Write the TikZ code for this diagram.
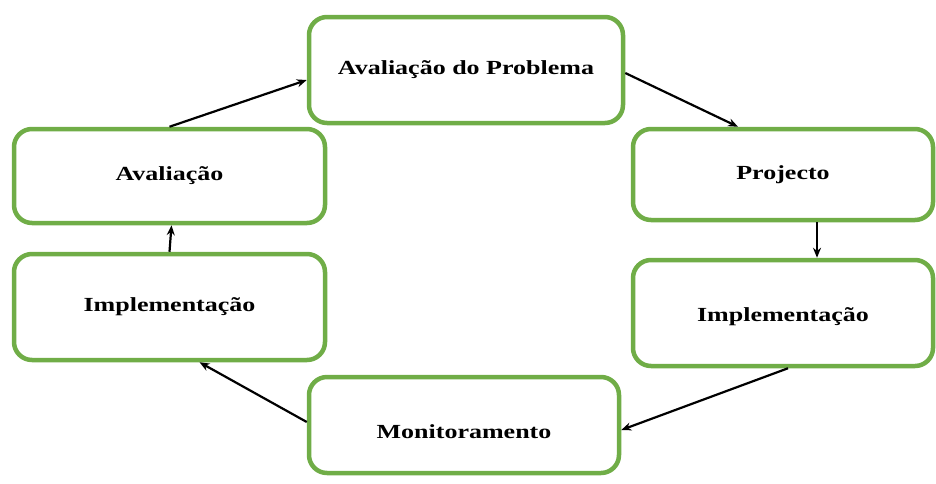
\documentclass[tikz,border=0pt]{standalone}
\usepackage{fontspec}
\setmainfont{Liberation Serif}[FakeStretch=1.3]
\usetikzlibrary{arrows.meta}
\definecolor{boxgreen}{HTML}{70AD47}

\begin{document}
\begin{tikzpicture}[x=1pt, y=-1pt,
    stage/.style={draw=boxgreen, line width=4.5pt, rounded corners=18pt, fill=white,
        font=\fontsize{20}{24}\selectfont\bfseries, inner sep=0pt},
    flow/.style={-{Stealth[length=10pt, width=8pt]}, line width=2.2pt}]
  \useasboundingbox (0,0) rectangle (936,483);
  % stages of the cycle
  \node[stage, minimum width=314pt, minimum height=106pt] (prob) at (466,70) {Avaliação do Problema};
  \node[stage, minimum width=311pt, minimum height=94pt] (aval) at (169.5,176) {Avaliação};
  \node[stage, minimum width=300pt, minimum height=91pt] (proj) at (783,174.5) {Projecto};
  \node[stage, minimum width=311pt, minimum height=106pt] (implL) at (169.5,307) {Implementação};
  \node[stage, minimum width=300pt, minimum height=106pt, text height=22pt] (implR) at (783,313) {Implementação};
  \node[stage, minimum width=310pt, minimum height=96pt, text height=27pt, text depth=0pt] (mon) at (464,425) {Monitoramento};
  % arrows
  \draw[flow] (aval.north) -- ([yshift=-10pt]prob.west);
  \draw[flow] ([yshift=-3pt]prob.east) -- ([xshift=-45pt]proj.north);
  \draw[flow] ([xshift=34pt]proj.south) -- ([xshift=34pt]implR.north);
  \draw[flow] ([xshift=5pt]implR.south) -- ([yshift=-5pt]mon.east);
  \draw[flow] ([yshift=3pt]mon.west) -- ([xshift=30pt]implL.south);
  \draw[flow] (implL.north) -- ([xshift=2pt]aval.south);
\end{tikzpicture}
\end{document}
